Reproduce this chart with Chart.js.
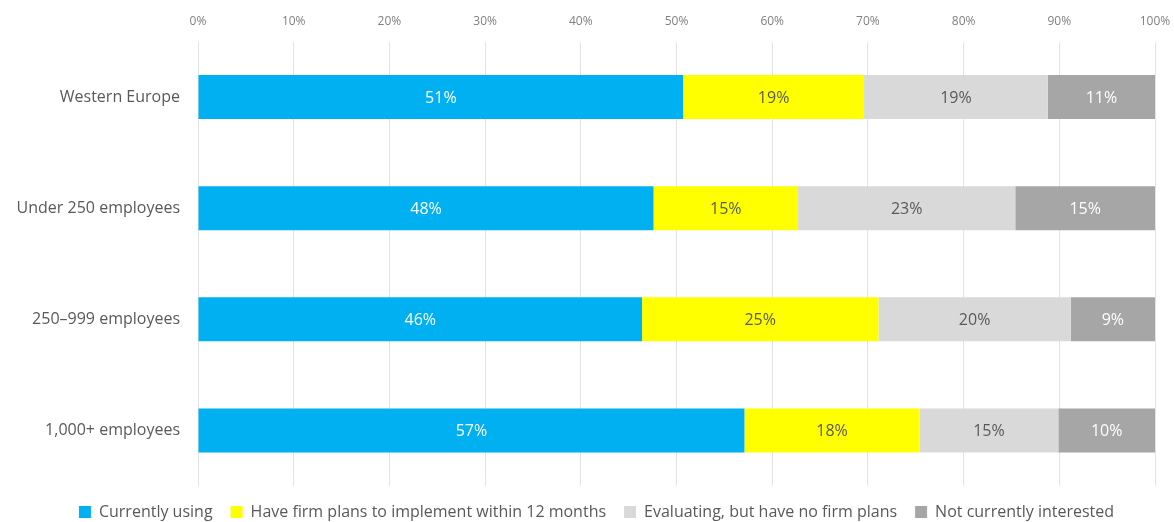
<!DOCTYPE html>
<html>
<head>
<meta charset="utf-8">
<script src="https://cdn.jsdelivr.net/npm/chart.js@4"></script>
<style>
  html, body { margin: 0; padding: 0; background: #fff; }
  #wrap { width: 1174px; height: 522px; }
</style>
</head>
<body>
<div id="wrap"><canvas id="bar-chart"></canvas></div>
<script>
// categories (top to bottom)
var regions = ['Western Europe', 'Under 250 employees', '250\u2013999 employees', '1,000+ employees'];

// series values, % of respondents
var currentlyUsing = [50.7, 47.6, 46.4, 57.1];
var firmPlans      = [18.9, 15.1, 24.7, 18.3];
var evaluating     = [19.2, 22.7, 20.1, 14.5];
var notInterested  = [11.2, 14.6, 8.8, 10.1];

var seriesNames = [
    'Currently using',
    'Have firm plans to implement within 12 months',
    'Evaluating, but have no firm plans',
    'Not currently interested'
];

var fontName = "'Open Sans', sans-serif";
var labelColors = ['#ffffff', '#595959', '#595959', '#ffffff'];

// draws the % value in the middle of every segment
var segmentLabels = {
    id: 'segmentLabels',
    afterDatasetsDraw: function(chart) {
        var ctx = chart.ctx;
        ctx.save();
        ctx.font = '16px ' + fontName;
        ctx.textAlign = 'center';
        ctx.textBaseline = 'middle';
        chart.data.datasets.forEach(function(ds, i) {
            var meta = chart.getDatasetMeta(i);
            meta.data.forEach(function(bar, j) {
                var p = bar.getCenterPoint();
                ctx.fillStyle = labelColors[i];
                ctx.fillText(Math.round(ds.data[j]) + '%', p.x, p.y + 1);
            });
        });
        ctx.restore();
    }
};

// legend sits a little right of the canvas centre in the original
var legendShift = {
    id: 'legendShift',
    afterLayout: function(chart) {
        if (chart.legend) {
            chart.legend.left += 19;
            chart.legend.right += 19;
        }
    }
};

var ctx = document.getElementById('bar-chart').getContext('2d');
var chart = new Chart(ctx, {
    type: 'bar',
    data: {
        labels: regions,
        datasets: [{
            label: seriesNames[0],
            data: currentlyUsing,
            backgroundColor: '#00B0F0'
        }, {
            label: seriesNames[1],
            data: firmPlans,
            backgroundColor: '#FFFF00'
        }, {
            label: seriesNames[2],
            data: evaluating,
            backgroundColor: '#D9D9D9'
        }, {
            label: seriesNames[3],
            data: notInterested,
            backgroundColor: '#A6A6A6'
        }]
    },
    options: {
        indexAxis: 'y',
        responsive: true,
        maintainAspectRatio: false,
        animation: false,
        datasets: {
            bar: {
                categoryPercentage: 1,
                barPercentage: 0.396
            }
        },
        layout: {
            padding: { left: 0, right: 19, top: 0, bottom: -8 }
        },
        plugins: {
            tooltip: { enabled: false },
            legend: {
                position: 'bottom',
                labels: {
                    boxWidth: 12,
                    boxHeight: 12,
                    padding: 18,
                    color: '#595959',
                    font: { family: fontName, size: 16 }
                }
            }
        },
        scales: {
            x: {
                position: 'top',
                stacked: true,
                min: 0,
                max: 100,
                border: { display: false },
                grid: { color: '#E3E3E3', drawTicks: true, tickLength: 13, tickColor: 'rgba(0,0,0,0)' },
                ticks: {
                    stepSize: 10,
                    padding: 0,
                    color: '#808080',
                    font: { family: fontName, size: 12 },
                    callback: function(v) { return v + '%'; }
                },
                afterFit: function(scale) { scale.height = 41.5; }
            },
            y: {
                stacked: true,
                border: { display: false },
                grid: { display: false, drawTicks: false },
                ticks: {
                    padding: 18,
                    color: '#595959',
                    font: { family: fontName, size: 16 }
                },
                afterFit: function(scale) { scale.width = 198; }
            }
        }
    },
    plugins: [segmentLabels, legendShift]
});
</script>
</body>
</html>
